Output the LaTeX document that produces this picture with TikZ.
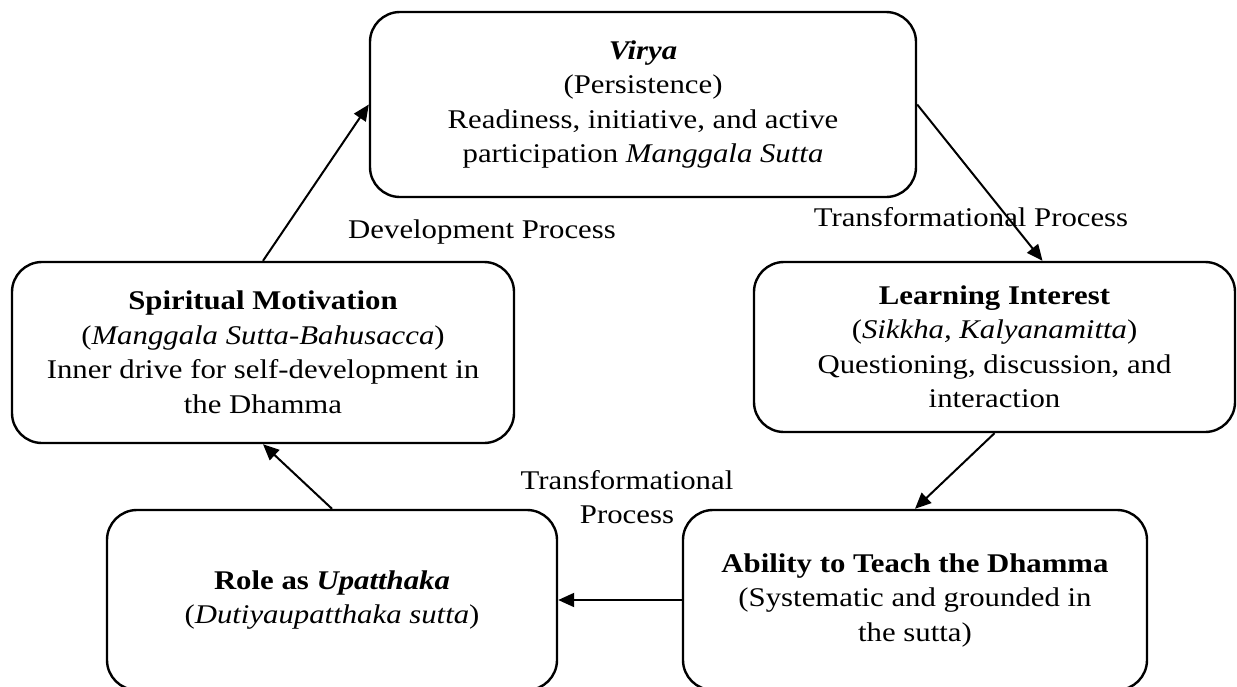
\documentclass[tikz,border=0pt]{standalone}
\usepackage{fontspec}
\setmainfont{Liberation Serif}[FakeStretch=1.14]
\usetikzlibrary{arrows.meta,calc}
\begin{document}
\begin{tikzpicture}[x=1pt,y=-1pt,
  stage/.style={draw, line width=2.4pt, rounded corners=30pt, align=center,
    inner sep=0pt, font=\fontsize{27}{34.5}\selectfont},
  flow/.style={line width=2pt, -{Triangle[length=16pt,width=14pt]}},
  lbl/.style={align=center, inner sep=0pt, font=\fontsize{27}{34.5}\selectfont}]
\useasboundingbox (0,0) rectangle (1237,686);
\clip (0,0) rectangle (1237,686);

% the five stages of the cycle
\node[stage, minimum width=546pt, minimum height=185pt] (virya) at (643,104.5)
  {\textbf{\textit{Virya}}\\(Persistence)\\Readiness, initiative, and active\\participation \textit{Manggala Sutta}};
\node[stage, minimum width=502pt, minimum height=181pt] (spirit) at (263,352.5)
  {\textbf{Spiritual Motivation}\\(\textit{Manggala Sutta-Bahusacca})\\Inner drive for self-development in\\the Dhamma};
\node[stage, minimum width=481pt, minimum height=170pt] (learn) at (994.5,347)
  {\textbf{Learning Interest}\\(\textit{Sikkha, Kalyanamitta})\\Questioning, discussion, and\\interaction};
\node[stage, minimum width=450pt, minimum height=180pt] (role) at (332,600)
  {\textbf{Role as \textit{Upatthaka}}\\(\textit{Dutiyaupatthaka sutta})};
\node[stage, minimum width=464pt, minimum height=180pt] (ability) at (915,600)
  {\textbf{Ability to Teach the Dhamma}\\(Systematic and grounded in\\the sutta)};

% process labels
\node[lbl] (devlbl) at (482,232) {Development Process};
\node[lbl] (trlbl) at (971,217) {Transformational Process};
\node[lbl] (tr2lbl) at (627,497) {Transformational\\Process};

% connectors
\draw[flow] (spirit.north) -- (virya.west);
\draw[flow] (virya.east) -- ($(learn.north)+(48,0)$);
\draw[flow] (learn.south) -- (ability.north);
\draw[flow] (ability.west) -- (role.east);
\draw[flow] (role.north) -- (spirit.south);
\end{tikzpicture}
\end{document}
